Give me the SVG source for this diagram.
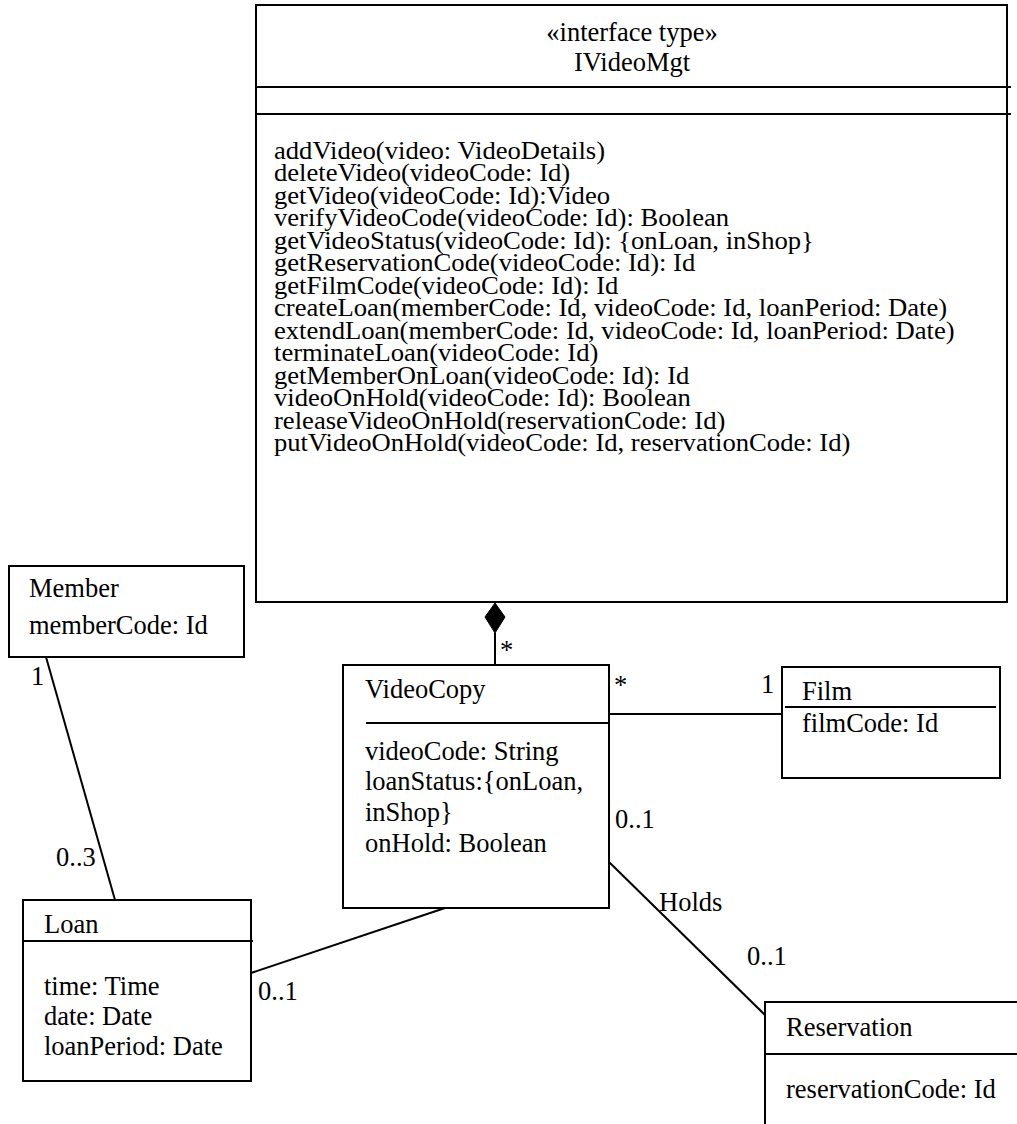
<svg xmlns="http://www.w3.org/2000/svg" width="1017" height="1124" viewBox="0 0 1017 1124">
<style>
text{font-family:"Liberation Serif","Times New Roman",serif;font-size:26.5px;fill:#000}
.m text{font-size:25px}
.box{fill:#fff;stroke:#000;stroke-width:2}
.ln{stroke:#000;stroke-width:2;fill:none}
.c{text-anchor:middle}
</style>
<rect width="1017" height="1124" fill="#fff"/>
<g id="connectors">
<line class="ln" x1="495" y1="633" x2="495" y2="665"/>
<polygon points="495,603 485,617 495,633 505,617" fill="#000" stroke="#000" stroke-width="1"/>
<line class="ln" x1="46" y1="657" x2="115" y2="900"/>
<line class="ln" x1="609" y1="714" x2="782" y2="714"/>
<line class="ln" x1="251" y1="973" x2="445" y2="908"/>
<line class="ln" x1="609" y1="862" x2="765" y2="1015"/>
<text x="500" y="659">*</text>
<text x="614" y="694">*</text>
<text x="761" y="693">1</text>
<text x="31" y="685">1</text>
<text x="56" y="866">0..3</text>
<text x="258" y="1000">0..1</text>
<text x="615" y="828">0..1</text>
<text x="659" y="911">Holds</text>
<text x="747" y="965">0..1</text>
</g>
<g id="IVideoMgt">
<rect class="box" x="256" y="5" width="751" height="597"/>
<line class="ln" x1="256" y1="87" x2="1011" y2="87"/>
<line class="ln" x1="256" y1="114" x2="1011" y2="114"/>
<text class="c" x="632" y="41">«interface type»</text>
<text class="c" x="632" y="71">IVideoMgt</text>
<g class="m" transform="translate(274,0) scale(1.065,1)">
<text x="0" y="159">addVideo(video: VideoDetails)</text>
<text x="0" y="181.5">deleteVideo(videoCode: Id)</text>
<text x="0" y="204">getVideo(videoCode: Id):Video</text>
<text x="0" y="226.5">verifyVideoCode(videoCode: Id): Boolean</text>
<text x="0" y="249">getVideoStatus(videoCode: Id): {onLoan, inShop}</text>
<text x="0" y="271.5">getReservationCode(videoCode: Id): Id</text>
<text x="0" y="294">getFilmCode(videoCode: Id): Id</text>
<text x="0" y="316.5">createLoan(memberCode: Id, videoCode: Id, loanPeriod: Date)</text>
<text x="0" y="339">extendLoan(memberCode: Id, videoCode: Id, loanPeriod: Date)</text>
<text x="0" y="361.5">terminateLoan(videoCode: Id)</text>
<text x="0" y="384">getMemberOnLoan(videoCode: Id): Id</text>
<text x="0" y="406.5">videoOnHold(videoCode: Id): Boolean</text>
<text x="0" y="429">releaseVideoOnHold(reservationCode: Id)</text>
<text x="0" y="451.5">putVideoOnHold(videoCode: Id, reservationCode: Id)</text>
</g>
</g>
<g id="Member">
<rect class="box" x="9" y="566" width="235" height="91"/>
<text x="29" y="597">Member</text>
<text x="29" y="634">memberCode: Id</text>
</g>
<g id="Loan">
<rect class="box" x="23" y="900" width="228" height="181"/>
<line class="ln" x1="23" y1="941" x2="253" y2="941"/>
<text x="44" y="933">Loan</text>
<text x="44" y="995">time: Time</text>
<text x="44" y="1025">date: Date</text>
<text x="44" y="1055">loanPeriod: Date</text>
</g>
<g id="VideoCopy">
<rect class="box" x="343" y="665" width="266" height="243"/>
<line class="ln" x1="366" y1="723" x2="609" y2="723"/>
<text x="365" y="698">VideoCopy</text>
<text x="365" y="760">videoCode: String</text>
<text x="365" y="790">loanStatus:{onLoan,</text>
<text x="365" y="821">inShop}</text>
<text x="365" y="852">onHold: Boolean</text>
</g>
<g id="Film">
<rect class="box" x="782" y="667" width="218" height="111"/>
<line class="ln" x1="785" y1="707" x2="996" y2="707"/>
<text x="802" y="700">Film</text>
<text x="802" y="732">filmCode: Id</text>
</g>
<g id="Reservation">
<rect class="box" x="765" y="1002" width="300" height="160"/>
<line class="ln" x1="765" y1="1054" x2="1017" y2="1054"/>
<text x="786" y="1036">Reservation</text>
<text x="786" y="1098">reservationCode: Id</text>
</g>
</svg>
